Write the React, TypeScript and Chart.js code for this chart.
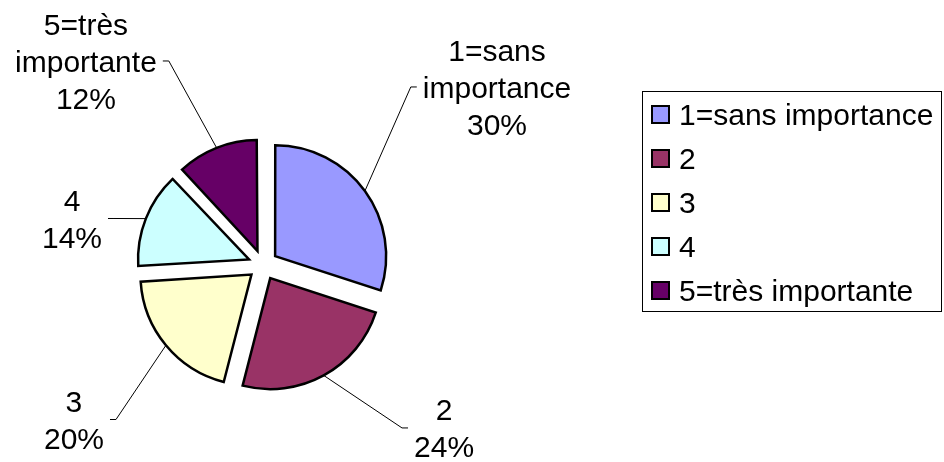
import React, { useEffect, useRef } from "react";
import { Chart, registerables } from "chart.js";

Chart.register(...registerables);

// ---- data ----
const categories = ["1=sans importance", "2", "3", "4", "5=très importante"];
const values = [30, 24, 20, 14, 12];
const colors = ["#9999FF", "#993366", "#FFFFCC", "#CCFFFF", "#660066"];

// label block centres relative to pie centre, in units of pie radius
const labelOffsetX = [2.108, 1.631, -1.703, -1.721, -1.595];
const labelOffsetY = [-1.604, 1.468, 1.392, -0.419, -1.838];

const FONT_SIZE = 30;
const FONT = `${FONT_SIZE}px "Liberation Sans", Arial, sans-serif`;
const LINE_H = 37;
// Chart.js 4 translates an arc by offset / 4
const EXPLODE = 60;

// keep every exploded slice at the same radius (Chart.js enlarges small slices)
const equalRadius = {
  id: "equalRadius",
  afterDatasetUpdate(chart: any, args: any) {
    const meta = chart.getDatasetMeta(args.index);
    const R = meta.controller.outerRadius;
    meta.data.forEach((arc: any) => {
      const circ = arc.endAngle - arc.startAngle;
      const off = ((arc.options && arc.options.offset) || 0) / 4;
      const fix = 1 - Math.sin(Math.min(Math.PI, circ));
      arc.outerRadius = R - off * fix;
    });
  },
};

const pieLabels = {
  id: "pieLabels",
  afterDatasetsDraw(chart: any) {
    const ctx = chart.ctx;
    const meta = chart.getDatasetMeta(0);
    const total = values.reduce((a, b) => a + b, 0);
    const R = meta.controller.outerRadius;
    ctx.save();
    ctx.font = FONT;
    ctx.fillStyle = "#000";
    ctx.strokeStyle = "#000";
    ctx.lineWidth = 1;
    meta.data.forEach((arc: any, i: number) => {
      const mid = (arc.startAngle + arc.endAngle) / 2;
      const off = (arc.options.offset || 0) / 4;
      const rr = R + off;
      const px = arc.x + Math.cos(mid) * rr;
      const py = arc.y + Math.sin(mid) * rr;
      const bx = arc.x + labelOffsetX[i] * R;
      const by = arc.y + labelOffsetY[i] * R;
      const lines = [
        ...String(chart.data.labels[i]).split(" "),
        Math.round((values[i] / total) * 100) + "%",
      ];
      const w = Math.max(...lines.map((l) => ctx.measureText(l).width));
      const right = bx > px;
      const edge = right ? bx - w / 2 : bx + w / 2;
      const sgn = right ? -1 : 1;
      const tNear = edge + sgn * 6;
      const tFar = edge + sgn * 12;
      ctx.beginPath();
      ctx.moveTo(px, py);
      ctx.lineTo(tFar, by);
      ctx.lineTo(tNear, by);
      ctx.stroke();
      ctx.textAlign = "center";
      ctx.textBaseline = "alphabetic";
      lines.forEach((l, k) => {
        const cy = by + (k - (lines.length - 1) / 2) * LINE_H;
        ctx.fillText(l, bx, cy + 0.358 * FONT_SIZE);
      });
    });
    ctx.restore();
  },
};

const boxLegend = {
  id: "boxLegend",
  afterDraw(chart: any) {
    const ctx = chart.ctx;
    ctx.save();
    ctx.strokeStyle = "#000";
    ctx.lineWidth = 1;
    ctx.strokeRect(642.5, 91.5, 299, 220);
    ctx.font = FONT;
    ctx.textAlign = "left";
    ctx.textBaseline = "alphabetic";
    (chart.data.labels as string[]).forEach((lab, i) => {
      const cy = 114.5 + i * 44;
      ctx.fillStyle = colors[i];
      ctx.fillRect(652, cy - 8.5, 17, 17);
      ctx.lineWidth = 2;
      ctx.strokeStyle = "#000";
      ctx.strokeRect(652, cy - 8.5, 17, 17);
      ctx.fillStyle = "#000";
      ctx.fillText(lab, 679, cy + 0.358 * FONT_SIZE);
    });
    ctx.restore();
  },
};

export default function App() {
  const ref = useRef<HTMLCanvasElement>(null);
  useEffect(() => {
    const chart = new Chart(ref.current as HTMLCanvasElement, {
      type: "pie",
      data: {
        labels: categories,
        datasets: [
          {
            data: values,
            backgroundColor: colors,
            borderColor: "#000",
            borderWidth: 2.5,
            offset: EXPLODE,
            borderJoinStyle: "miter",
          } as any,
        ],
      },
      options: {
        animation: false,
        responsive: false,
        events: [],
        layout: { padding: { left: 120.75, top: 122.75, right: 538.75, bottom: 54.75 } },
        plugins: { legend: { display: false }, tooltip: { enabled: false } },
      },
      plugins: [equalRadius, pieLabels, boxLegend],
    });
    return () => chart.destroy();
  }, []);
  return (
    <div style={{ position: "absolute", left: 0, top: 0, width: 944, height: 462, background: "#fff" }}>
      <canvas ref={ref} width={944} height={462} style={{ width: 944, height: 462, display: "block" }} />
    </div>
  );
}
